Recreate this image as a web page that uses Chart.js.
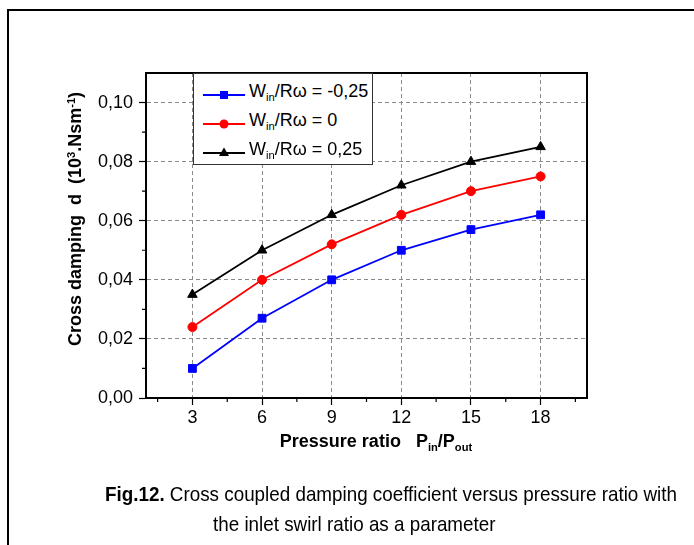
<!DOCTYPE html>
<html>
<head>
<meta charset="utf-8">
<script src="https://cdn.jsdelivr.net/npm/chart.js@4.4.0/dist/chart.umd.min.js"></script>
<style>
  html, body { margin: 0; padding: 0; background: #fff; overflow: hidden; }
  #wrap { position: relative; width: 694px; height: 545px; font-family: "Liberation Sans", Arial, sans-serif; color: #000; }
  #frame { position: absolute; left: 7px; top: 9px; width: 800px; height: 600px; border-left: 2px solid #000; border-top: 2px solid #000; }
  canvas { position: absolute; left: 0; top: 0; }
  .ytitle { position: absolute; left: -79px; top: 207px; width: 300px; height: 24px; line-height: 24px; text-align: center;
            font-weight: bold; font-size: 18px; transform: rotate(-90deg); white-space: nowrap; }
  .xtitle { position: absolute; left: 226px; top: 431px; width: 300px; text-align: center; font-weight: bold; font-size: 18px; white-space: nowrap; }
  sub, sup { font-size: 62%; }
  sub { vertical-align: -0.35em; }
  sup { vertical-align: 0.55em; }
  #legend { position: absolute; left: 193px; top: 73px; width: 178px; height: 90px; border: 1.5px solid #333; background: #fff; }
  .row { position: absolute; left: 8px; height: 28px; line-height: 28px; font-size: 18px; white-space: nowrap; }
  .row svg { position: absolute; left: 0; top: 4px; }
  .row span { position: absolute; left: 47px; top: -4px; }
  .cap { position: absolute; font-size: 21px; white-space: nowrap; transform-origin: 0 0; }
</style>
</head>
<body>
<div id="wrap">
  <div id="frame"></div>
  <canvas id="mycanvas" width="694" height="545"></canvas>
  <div class="ytitle">Cross damping&nbsp; d&nbsp; (10<sup>3</sup>.Nsm<sup>-1</sup>)</div>
  <div class="xtitle">Pressure ratio&nbsp;&nbsp; P<sub>in</sub>/P<sub>out</sub></div>
  <div id="legend"></div>
  <div class="cap" id="cap1" style="top:482px;"><b>Fig.12.</b> Cross coupled damping coefficient versus pressure ratio with</div>
  <div class="cap" id="cap2" style="top:512px;">the inlet swirl ratio as a parameter</div>
</div>
<script>
// data
var pressureRatio = [3, 6, 9, 12, 15, 18];
var dampNeg  = [0.010, 0.027, 0.040, 0.050, 0.057, 0.062];   // Win/Rw = -0,25
var dampZero = [0.024, 0.040, 0.052, 0.062, 0.070, 0.075];   // Win/Rw = 0
var dampPos  = [0.035, 0.050, 0.062, 0.072, 0.080, 0.085];   // Win/Rw = 0,25
var swirlLabels = ['-0,25', '0', '0,25'];

var xTicks = [3, 6, 9, 12, 15, 18];
var xMinor = [1.5, 4.5, 7.5, 10.5, 13.5, 16.5, 19.5];
var yTicks = [0, 0.02, 0.04, 0.06, 0.08, 0.10];
var yMinor = [0.01, 0.03, 0.05, 0.07, 0.09];

var colors = ['rgb(0,0,255)', 'rgb(255,0,0)', 'rgb(0,0,0)'];
var shapes = ['rect', 'circle', 'triangle'];
var radii = [5.5, 4.5, 5.5];
var series = [dampNeg, dampZero, dampPos];

function toXY(vals) {
	var pts = [];
	for (var i in vals) pts.push({x: pressureRatio[i], y: vals[i]});
	return pts;
}

var datasets = [];
for (var s = 0; s < series.length; s++) {
	datasets.push({
		label: 'Win/Rw = ' + swirlLabels[s],
		data: toXY(series[s]),
		borderColor: colors[s],
		backgroundColor: colors[s],
		borderWidth: 1.8,
		pointStyle: shapes[s],
		pointRadius: radii[s],
		pointBorderWidth: 1,
		tension: 0
	});
}

// legend with subscripts, as html
var legendHtml = '';
for (var s = 0; s < series.length; s++) {
	var mark;
	if (s == 0) mark = '<rect x="18" y="6" width="8" height="8" fill="' + colors[s] + '"/>';
	else if (s == 1) mark = '<circle cx="22" cy="10" r="4.5" fill="' + colors[s] + '"/>';
	else mark = '<polygon points="22,4.5 27,13 17,13" fill="' + colors[s] + '"/>';
	legendHtml += '<div class="row" style="top:' + (7 + s * 29) + 'px">' +
		'<svg width="44" height="20"><line x1="1" y1="10" x2="43" y2="10" stroke="' + colors[s] + '" stroke-width="1.8"/>' + mark + '</svg>' +
		'<span>W<sub>in</sub>/R&omega; = ' + swirlLabels[s] + '</span></div>';
}
document.getElementById('legend').innerHTML = legendHtml;

// caption is set in a narrow face in the figure: squeeze both lines by the same factor
var cap1 = document.getElementById('cap1'), cap2 = document.getElementById('cap2');
var squeeze = (677 - 105) / cap1.getBoundingClientRect().width;
cap1.style.left = '105px';
cap1.style.transform = 'scaleX(' + squeeze + ')';
var w2 = cap2.getBoundingClientRect().width * squeeze;
cap2.style.left = (354 - w2 / 2) + 'px';
cap2.style.transform = 'scaleX(' + squeeze + ')';

var boxPlugin = {
	id: 'box',
	afterDraw: function(chart) {
		var ctx = chart.ctx, a = chart.chartArea;
		var xs = chart.scales.x, ys = chart.scales.y;
		ctx.save();
		ctx.strokeStyle = '#000';
		ctx.lineWidth = 2;
		ctx.beginPath();
		ctx.moveTo(a.left, a.top); ctx.lineTo(a.right, a.top); ctx.lineTo(a.right, a.bottom);
		ctx.stroke();
		ctx.lineWidth = 1.2;
		ctx.beginPath();
		for (var i in xMinor) {
			var px = xs.getPixelForValue(xMinor[i]);
			ctx.moveTo(px, a.bottom); ctx.lineTo(px, a.bottom + 4);
		}
		for (var j in yMinor) {
			var py = ys.getPixelForValue(yMinor[j]);
			ctx.moveTo(a.left, py); ctx.lineTo(a.left - 4, py);
		}
		ctx.stroke();
		ctx.restore();
	}
};

var tickFont = {family: '"Liberation Sans", Arial, sans-serif', size: 18};

var chart = new Chart(document.getElementById('mycanvas'), {
	type: 'line',
	data: {datasets: datasets},
	options: {
		responsive: false,
		animation: false,
		devicePixelRatio: 1,
		layout: {padding: {top: 73, right: 107, left: 0, bottom: 0}},
		plugins: {legend: {display: false}, tooltip: {enabled: false}},
		scales: {
			x: {
				type: 'linear',
				min: 1, max: 20,
				afterBuildTicks: function(scale) { scale.ticks = xTicks.map(function(v) { return {value: v}; }); },
				afterFit: function(scale) { scale.height = 147; },
				ticks: {color: '#000', font: tickFont, padding: 2, maxRotation: 0},
				grid: {color: '#8a8a8a', lineWidth: 1, tickLength: 7, tickColor: '#000', tickWidth: 1.2},
				border: {display: true, color: '#000', width: 2, dash: [4, 3]}
			},
			y: {
				min: 0, max: 0.11,
				afterBuildTicks: function(scale) { scale.ticks = yTicks.map(function(v) { return {value: v}; }); },
				afterFit: function(scale) { scale.width = 146; },
				ticks: {
					color: '#000', font: tickFont, padding: 6,
					callback: function(v) { return v.toFixed(2).replace('.', ','); }
				},
				grid: {color: '#8a8a8a', lineWidth: 1, tickLength: 7, tickColor: '#000', tickWidth: 1.2},
				border: {display: true, color: '#000', width: 2, dash: [4, 3]}
			}
		}
	},
	plugins: [boxPlugin]
});
</script>
</body>
</html>
